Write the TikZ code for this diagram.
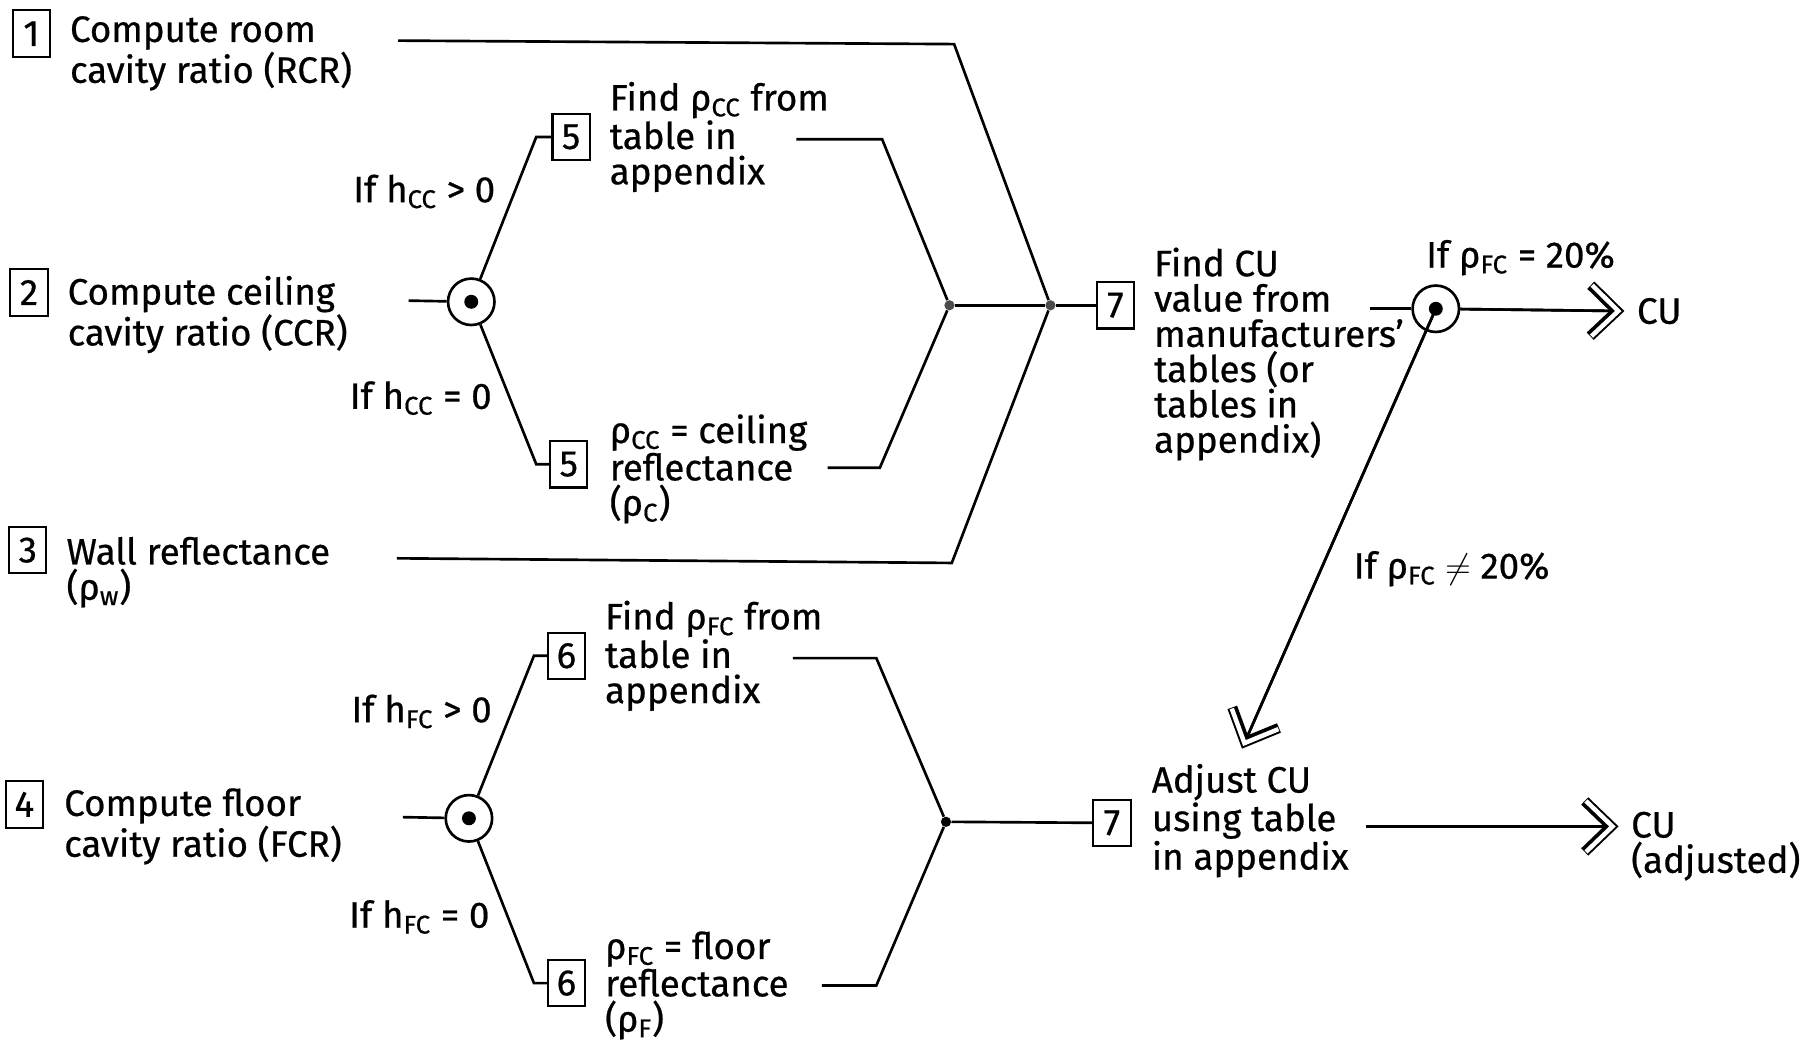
\documentclass[tikz,border=0pt]{standalone}
\usepackage{fontspec}
\setmainfont{Fira Sans}[FakeBold=0.6]
\usetikzlibrary{arrows.meta,positioning,calc}
\newcommand{\sub}[1]{\textsubscript{#1}}

\begin{document}
\begin{tikzpicture}[
  x=0.02cm, y=-0.02cm,
  font=\fontsize{18}{17.3}\selectfont,
  num/.style={draw, line width=1pt, minimum width=0.64cm,
              minimum height=0.8cm, inner sep=0pt},
  txt/.style={anchor=west, align=left, inner sep=0pt},
  cond/.style={anchor=east, inner sep=0pt},
  wire/.style={line width=1.3pt},
  arr/.style={wire, -{Straight Barb[length=13pt, width=25pt, line width=5pt]},
              postaction={draw, shorten >=1.4pt,
              -{Straight Barb[length=13pt, width=25pt, line width=2.2pt, color=white]}}},
  ring/.style={circle, draw, line width=1.3pt, minimum size=0.8cm,
               inner sep=0pt, fill=white},
  pin/.style={circle, fill, minimum size=0.24cm, inner sep=0pt},
  joint/.style={circle, fill, minimum size=5pt, inner sep=0pt}
]
\useasboundingbox (0,0) rectangle (1568,899);
\node[num] (n1) at (27,29) {1};
\node[txt] (t1) at (60,46) {Compute room\\cavity ratio (RCR)};
\node[num] (n2) at (25,252) {2};
\node[txt] (t2) at (58,271) {Compute ceiling\\cavity ratio (CCR)};
\node[num] (n3) at (24,474) {3};
\node[txt] (t3) at (57,493) {Wall reflectance\\(ρ\sub{w})};
\node[num] (n4) at (21,693) {4};
\node[txt] (t4) at (55,712) {Compute floor\\cavity ratio (FCR)};
\node[ring] (cc) at (406,260) {};
\node[pin] at (cc) {};
\node[num] (n5a) at (492,118) {5};
\node[txt] (t5a) at (525,118) {Find ρ\sub{CC} from\\table in\\appendix};
\node[num] (n5b) at (490,400) {5};
\node[txt] (t5b) at (525,404) {ρ\sub{CC} = ceiling\\reflectance\\(ρ\sub{C})};
\node[cond] (h5a) at (427,165) {If h\sub{CC} > 0};
\node[cond] (h5b) at (424,343) {If h\sub{CC} = 0};
\node[ring] (fc) at (404,705) {};
\node[pin] at (fc) {};
\node[num] (n6a) at (488,565) {6};
\node[txt] (t6a) at (521,565) {Find ρ\sub{FC} from\\table in\\appendix};
\node[num] (n6b) at (488,847) {6};
\node[txt] (t6b) at (521,849) {ρ\sub{FC} = floor\\reflectance\\(ρ\sub{F})};
\node[cond] (h6a) at (424,613) {If h\sub{FC} > 0};
\node[cond] (h6b) at (422,790) {If h\sub{FC} = 0};
\node[joint, fill=black!70] (j1) at (818,263) {};
\node[joint, fill=black!70] (j2) at (905,263) {};
\node[joint] (j3) at (815,708) {};
\node[num] (n7a) at (961,263) {7};
\node[txt] (t7a) at (994,305) {Find CU\\value from\\manufacturers’\\tables (or\\tables in\\appendix)};
\node[num] (n7b) at (958,709) {7};
\node[txt] (t7b) at (992,707) {Adjust CU\\using table\\in appendix};
\node[ring] (cuq) at (1237,266) {};
\node[pin] at (cuq) {};
\node (q1) at (1310,222) {If ρ\sub{FC} = 20\%};
\node[txt] (q2) at (1166,490) {If ρ\sub{FC} $\neq$ 20\%};
\node[txt] (cu1) at (1410,268) {CU};
\node[txt] (cu2) at (1405,729) {CU\\(adjusted)};
\coordinate (o1) at (343,35);
\coordinate (o2) at (352,259);
\coordinate (o3) at (342,481);
\coordinate (o4) at (347,704);
\coordinate (o5a) at (686,120);
\coordinate (o5b) at (713,403);
\coordinate (o6a) at (683,567);
\coordinate (o6b) at (708,849);
\coordinate (o7a) at (1180,266);
\coordinate (o7b) at (1177,712);
\coordinate (e7) at (1070,645);
\draw[wire] (o1) -- (822,38) -- (j2);
\draw[wire] (o3) -- (820,485) -- (j2);
\draw[wire] (o2) -- (cc);
\draw[wire] (cc) -- (462,118) -- (n5a);
\draw[wire] (cc) -- (462,400) -- (n5b);
\draw[wire] (o5a) -- (760,120) -- (j1);
\draw[wire] (o5b) -- (758,403) -- (j1);
\draw[wire] (j1) -- (j2) -- (n7a);
\draw[wire] (o4) -- (fc);
\draw[wire] (fc) -- (460,565) -- (n6a);
\draw[wire] (fc) -- (460,847) -- (n6b);
\draw[wire] (o6a) -- (755,567) -- (j3);
\draw[wire] (o6b) -- (755,849) -- (j3);
\draw[wire] (j3) -- (n7b);
\draw[wire] (o7a) -- (cuq);
\draw[arr] (cuq) -- ([xshift=-6pt]cu1.west);
\draw[arr] (cuq.center) -- (e7);
\draw[arr] (o7b) -- ([xshift=-6pt]o7b -| cu2.west);
\end{tikzpicture}
\end{document}
